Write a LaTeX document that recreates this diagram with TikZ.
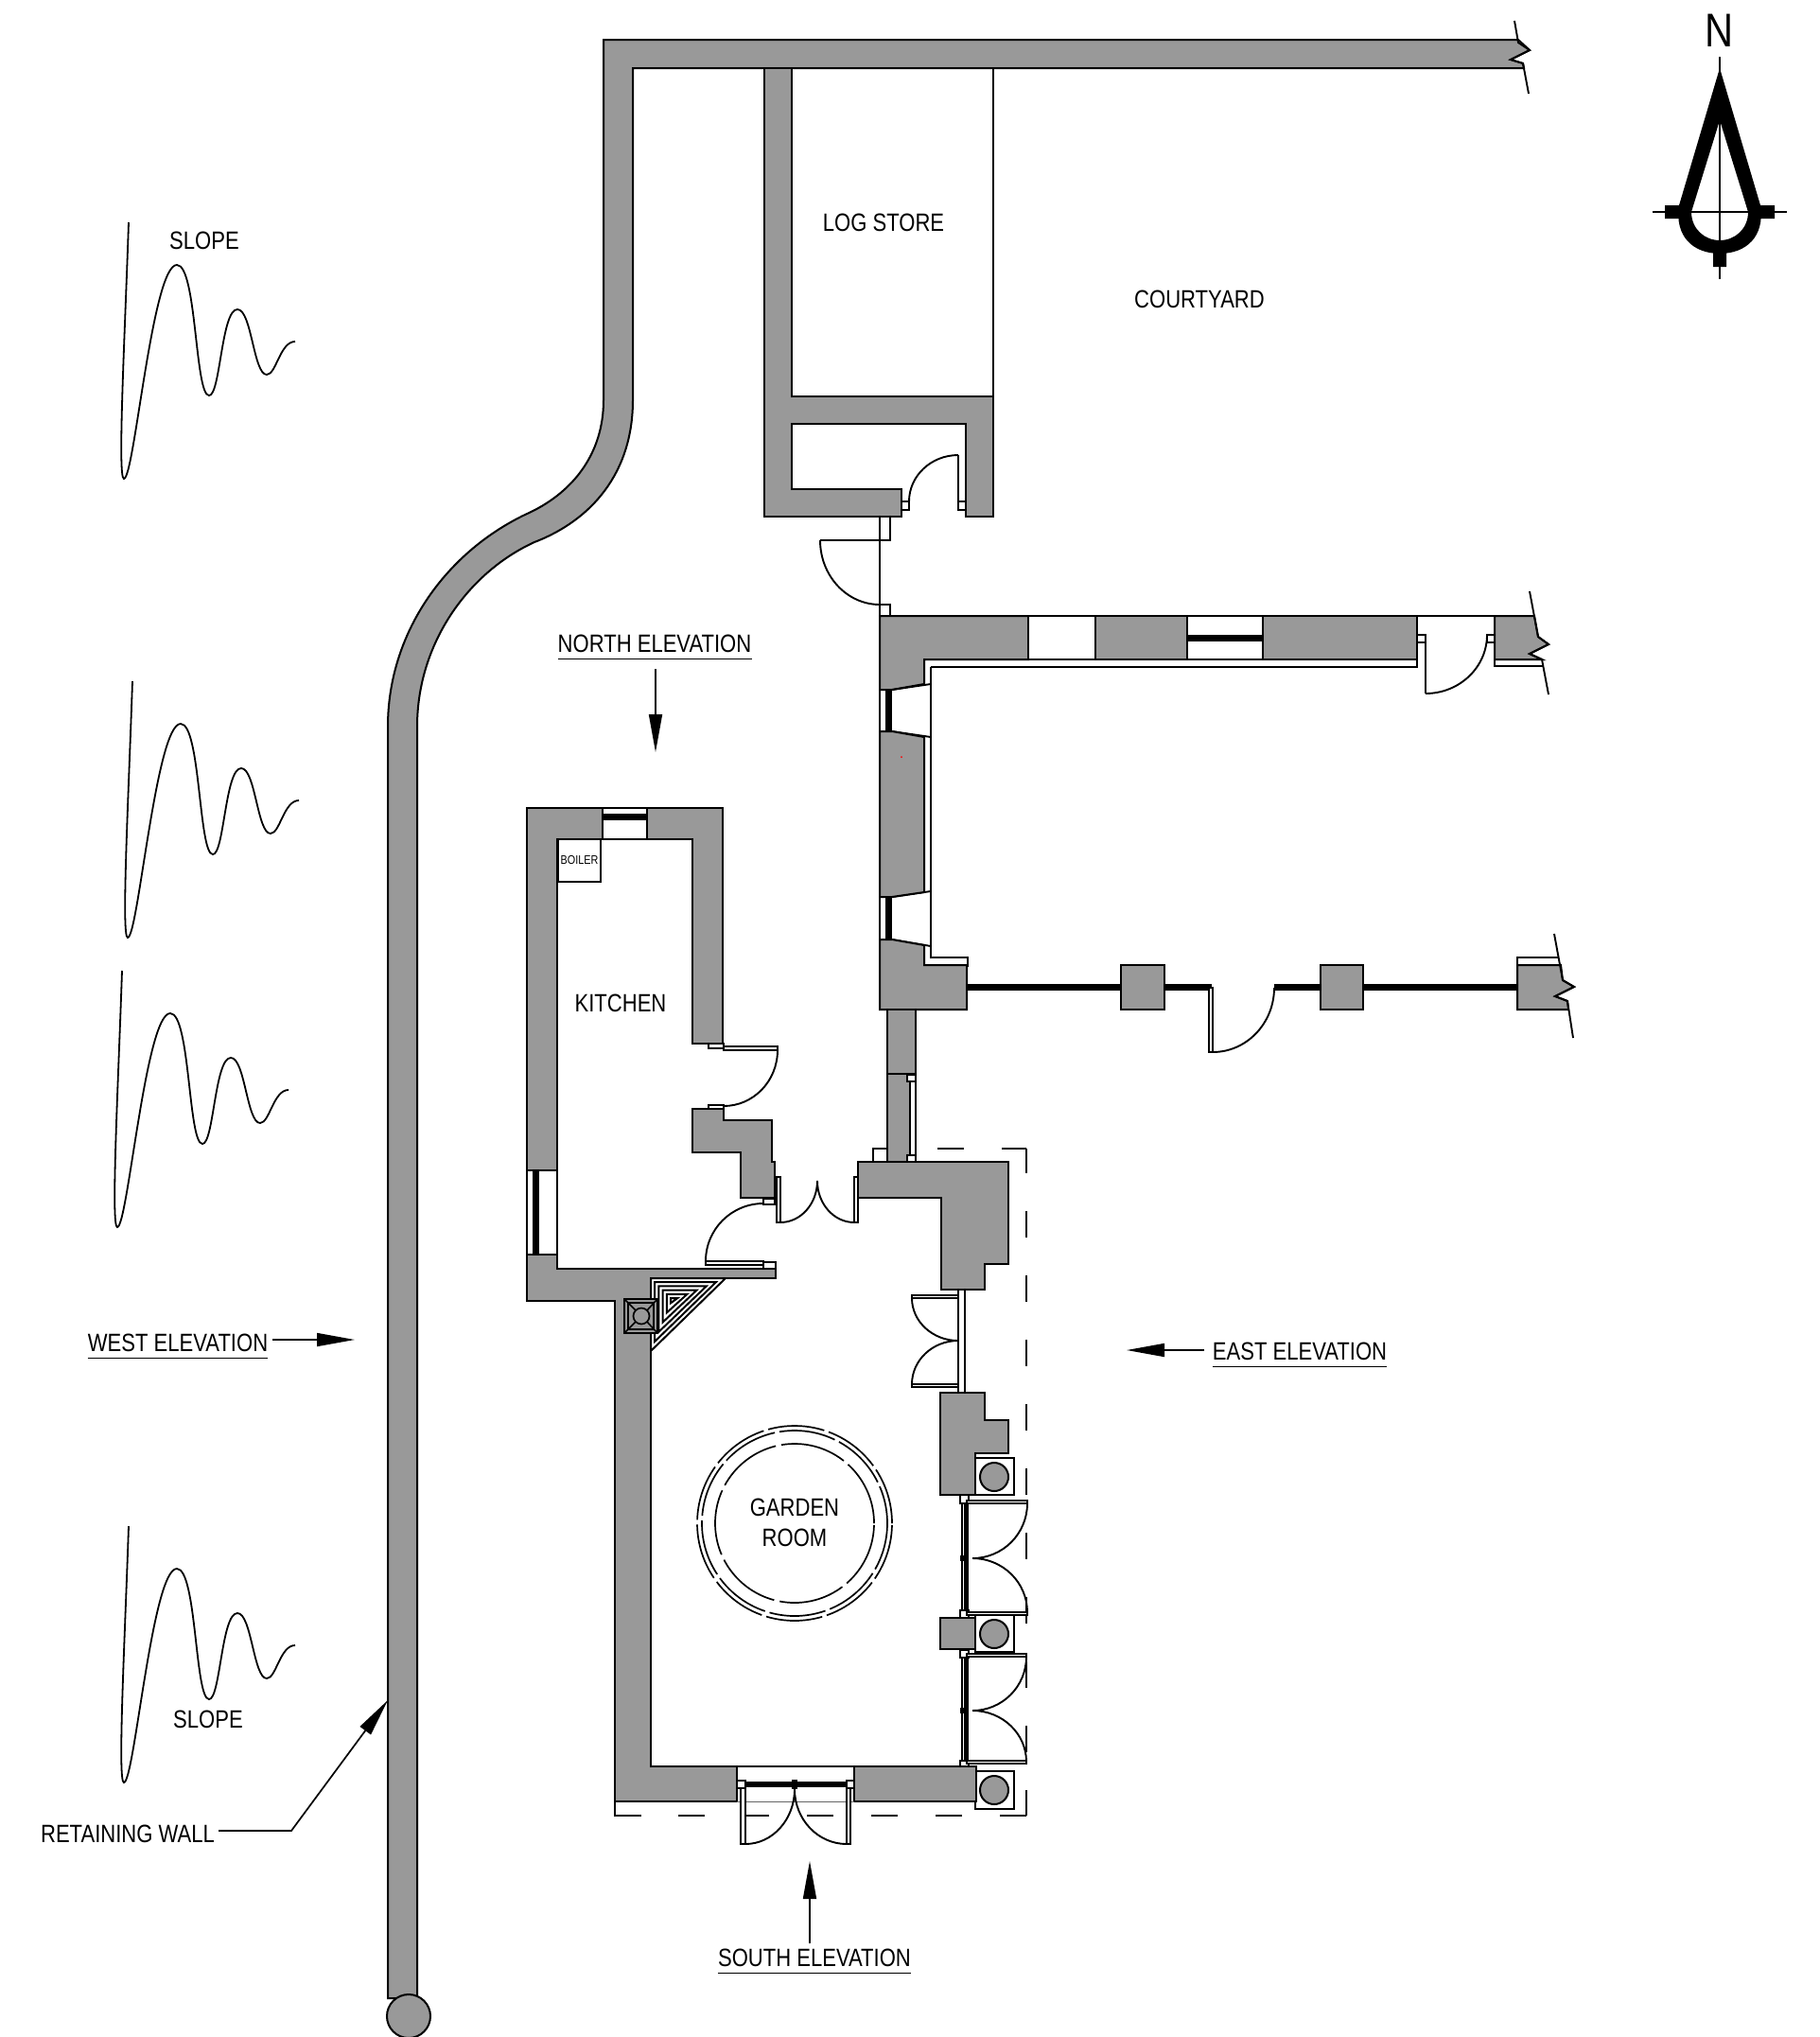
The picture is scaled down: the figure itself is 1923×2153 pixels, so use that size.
\documentclass[tikz,border=0pt]{standalone}
\usepackage{fontspec}
\setmainfont[FakeStretch=0.832]{Liberation Sans}
\usetikzlibrary{calc,arrows.meta}
\definecolor{wallgray}{HTML}{999999}
\newcommand{\qarc}[4]{\draw[ln] (#1,#2) .. controls ($(#1,#2)!0.552!(#1,#4)$) and ($(#3,#4)!0.552!(#1,#4)$) .. (#3,#4);}
\newcommand{\fr}[4]{\draw[frm] (#1,#2) rectangle (#3,#4);}
\newcommand{\blk}[4]{\fill[black] (#1,#2) rectangle (#3,#4);}
\tikzset{
 ln/.style={draw=black,line width=1.9pt,line join=miter},
 wall/.style={draw=black,fill=wallgray,line width=2pt,line join=miter},
 frm/.style={draw=black,fill=white,line width=1.7pt},
 dashline/.style={draw=black,line width=1.9pt,dash pattern=on 28pt off 40pt},
 lab/.style={inner sep=0pt,font=\fontsize{26.5}{30}\selectfont},
 lead/.style={draw=black,line width=1.7pt},
 arr/.style={lead,-{Triangle[length=40pt,width=14pt]}},
}
\begin{document}
\begin{tikzpicture}[x=1pt,y=-1pt]
\useasboundingbox (0,0) rectangle (1923,2153);
\fill[white] (0,0) rectangle (1923,2153);

% building line (dashed outline)
\draw[ln] (923,1228) -- (923,1214) -- (951,1214);
\draw[dashline] (991,1214) -- (1085,1214);
\draw[dashline,dash phase=2pt] (1085,1214) -- (1085,1919);
\draw[dashline] (1085,1919) -- (680,1919);
\draw[ln] (650,1904) -- (650,1919) -- (678,1919);

% retaining wall + north wall
\draw[wall] (638,42) -- (1605,42) -- (1617,53) -- (1597,63) -- (1610,67) -- (1611,72) -- (669,72) -- (669,423)
  .. controls (669,500) and (625,550) .. (565,573)
  .. controls (495,605) and (441,680) .. (441,768)
  -- (441,2112) -- (410,2112) -- (410,768)
  .. controls (410,670) and (470,585) .. (555,544)
  .. controls (605,522) and (638,480) .. (638,423) -- cycle;
\draw[wall] (432,2131) circle[radius=23pt];
\draw[ln] (1601,22) -- (1605,45) -- (1617,53) -- (1597,63) -- (1610,67) -- (1616,99);

% log store
\draw[ln] (1050,72) -- (1050,419);
\draw[wall] (808,72) -- (837,72) -- (837,419) -- (1050,419) -- (1050,546) -- (1021,546) -- (1021,448) -- (837,448) -- (837,517) -- (953,517) -- (953,546) -- (808,546) -- cycle;
\fr{953}{530}{961}{539} \fr{1013}{530}{1021}{539}
\draw[ln] (1013,481) -- (1013,530);
\qarc{961}{530}{1013}{481}
% gate
\draw[ln] (930,546) -- (930,651);
\draw[ln] (930,546) -- (941,546) -- (941,571) -- (930,571);
\draw[ln] (867,571) -- (930,571);
\draw[ln] (930,639) -- (941,639) -- (941,651);
\qarc{867}{571}{930}{639}

% main range, inner lining
\draw[ln] (984,723) -- (984,1012) -- (1023,1012) -- (1023,1022);
\draw[ln] (984,705) -- (1498,705) -- (1498,697);
\draw[ln] (984,705) -- (984,723);
\draw[ln] (977,697) -- (977,723);
% north wall of main range
\draw[wall] (930,651) -- (1087,651) -- (1087,697) -- (977,697) -- (977,723) -- (943,729) -- (930,729) -- cycle;
\draw[frm] (1087,651) rectangle (1158,697);
\draw[wall] (1158,651) rectangle (1255,697);
\draw[frm] (1255,651) rectangle (1335,697);
\blk{1256}{671}{1334}{678}
\draw[wall] (1335,651) rectangle (1498,697);
\draw[ln] (1498,651) -- (1580,651);
\draw[wall] (1580,651) -- (1622,651) -- (1626,673) -- (1637,681) -- (1617,691) -- (1630,697) -- (1580,697) -- cycle;
\draw[ln] (1617,625) -- (1626,673) -- (1637,681) -- (1617,691) -- (1630,697) -- (1637,734);
\draw[ln] (1580,697) -- (1580,704) -- (1631,704);
\fr{1498}{671}{1507}{679} \fr{1572}{671}{1580}{679}
\draw[ln] (1507,679) -- (1507,733);
\qarc{1572}{671}{1507}{733}
% west windows of main range
\draw[ln] (930,729) -- (930,993);
\draw[ln] (943,729) -- (984,723); \draw[ln] (943,773) -- (984,779);
\draw[ln] (943,948) -- (984,942); \draw[ln] (943,993) -- (984,1000);
\blk{936}{729}{943}{773} \blk{936}{948}{943}{993}
\draw[wall] (930,773) -- (943,773) -- (977,779) -- (977,943) -- (943,948) -- (930,948) -- cycle;
\draw[wall] (930,993) -- (943,993) -- (977,999) -- (977,1020) -- (1022,1020) -- (1022,1067) -- (930,1067) -- cycle;
\fill[red] (953,800) circle[radius=1pt];
% south line of main range
\blk{1022}{1040}{1185}{1047} \blk{1231}{1040}{1281}{1047} \blk{1347}{1040}{1396}{1047} \blk{1441}{1040}{1604}{1047}
\draw[wall] (1185,1020) rectangle (1231,1067);
\draw[wall] (1396,1020) rectangle (1441,1067);
\draw[ln] (1604,1020) -- (1604,1012) -- (1648,1012);
\draw[wall] (1604,1020) -- (1650,1020) -- (1652,1036) -- (1664,1043) -- (1644,1053) -- (1657,1058) -- (1658,1067) -- (1604,1067) -- cycle;
\draw[ln] (1643,987) -- (1652,1036) -- (1664,1043) -- (1644,1053) -- (1657,1058) -- (1663,1097);
\draw[frm] (1278,1044) rectangle (1282,1112);
\qarc{1347}{1044}{1282}{1112}

% link pier
\draw[wall] (938,1067) rectangle (968,1228);
\draw[ln] (938,1135) -- (968,1135);
\fr{962}{1143}{968}{1221}
\fr{959}{1136}{968}{1143}
\fr{959}{1221}{968}{1228}

% kitchen
\draw[wall] (557,854) -- (637,854) -- (637,887) -- (589,887) -- (589,1237) -- (557,1237) -- cycle;
\draw[wall] (684,854) -- (764,854) -- (764,1103) -- (732,1103) -- (732,887) -- (684,887) -- cycle;
\fr{637}{854}{684}{887}
\blk{637}{860}{684}{867}
\fr{557}{1237}{589}{1326}
\blk{563}{1237}{570}{1326}
\draw[frm] (590,887) rectangle (635,932);
\node[inner sep=0pt,font=\fontsize{13}{15}\selectfont] (boiler) at (612.5,909.5) {BOILER};
% kitchen lower wall and garden-room west wall
\draw[wall] (557,1326) -- (589,1326) -- (589,1341) -- (820,1341) -- (820,1351) -- (688,1351) -- (688,1867) -- (779,1867) -- (779,1904) -- (650,1904) -- (650,1375) -- (557,1375) -- cycle;
% kitchen east door
\fr{749}{1103}{765}{1108}
\fr{765}{1106}{822}{1110}
\qarc{822}{1110}{765}{1169}
\fr{749}{1168}{765}{1172}
% kitchen stepped block
\draw[wall] (732,1172) -- (765,1172) -- (765,1184) -- (816,1184) -- (816,1228) -- (819,1228) -- (819,1266) -- (783,1266) -- (783,1218) -- (732,1218) -- cycle;
% kitchen south door
\fr{807}{1267}{819}{1273}
\qarc{746}{1333}{807}{1272}
\fr{746}{1333}{807}{1337}
\fr{807}{1334}{820}{1341}
% double door between kitchen and link
\draw[wall] (907,1228) -- (1066,1228) -- (1066,1336) -- (1041,1336) -- (1041,1363) -- (995,1363) -- (995,1266) -- (907,1266) -- cycle;
\fr{821}{1244}{825}{1292}
\fr{903}{1244}{907}{1292}
\qarc{864}{1248}{825}{1292}
\qarc{864}{1248}{903}{1292}
% corner cupboard
\foreach \d in {0,4.2,8.4,12.6,16.8,21}{
 \draw[line width=2pt,line join=miter] ({688+\d},{1351+\d}) -- ({767-2.414*\d},{1351+\d}) -- ({688+\d},{1428-2.414*\d}) -- cycle;
}
% flue
\draw[wall,line width=2.4pt] (660,1373) rectangle (695,1409);
\draw[line width=1.6pt] (664,1377) rectangle (691,1405);
\draw[line width=1.6pt] (660,1373) -- (672,1385) (695,1373) -- (684,1385) (660,1409) -- (672,1397) (695,1409) -- (684,1397);
\draw[wall,line width=1.7pt] (678,1391) circle[radius=8.5pt];
% east side of garden room
\fr{1013}{1363}{1020}{1472}
\fr{964}{1369}{1013}{1372}
\fr{964}{1463}{1013}{1466}
\qarc{964}{1372}{1013}{1417}
\qarc{964}{1463}{1013}{1417}
\draw[wall] (994,1472) -- (1041,1472) -- (1041,1501) -- (1066,1501) -- (1066,1536) -- (1031,1536) -- (1031,1580) -- (994,1580) -- cycle;
\fr{1031}{1541}{1072}{1580}
\draw[wall] (1051,1561) circle[radius=15pt];
\fr{1031}{1707}{1072}{1746}
\draw[wall] (1051,1727) circle[radius=15pt];
\draw[wall] (994,1710) rectangle (1031,1743);
\fr{1031}{1872}{1072}{1912}
\draw[wall] (1051,1892) circle[radius=15pt];
% east double doors, upper
\fr{1017}{1589}{1023}{1702}
\blk{1018.5}{1589}{1022}{1702}
\fr{1015}{1580}{1024}{1589}
\fr{1022}{1586}{1086}{1589}
\qarc{1086}{1589}{1028}{1647}
\qarc{1086}{1704}{1028}{1647}
\blk{1015}{1644}{1024}{1650}
\fr{1015}{1702}{1024}{1710}
\fr{1022}{1704}{1086}{1707}
% east double doors, lower
\fr{1017}{1751}{1023}{1862}
\blk{1018.5}{1751}{1022}{1862}
\fr{1015}{1744}{1024}{1752}
\fr{1022}{1748}{1085}{1751}
\qarc{1085}{1751}{1028}{1808}
\qarc{1085}{1862}{1028}{1808}
\blk{1015}{1805}{1024}{1811}
\fr{1015}{1861}{1024}{1867}
\fr{1022}{1861}{1085}{1864}
% south wall east part and door
\draw[wall] (903,1867) -- (1032,1867) -- (1032,1904) -- (903,1904) -- cycle;
\draw[ln] (779,1867) -- (903,1867);
\draw[line width=1pt,draw=black!60] (779,1904) -- (903,1904);
\blk{788}{1883}{895}{1889}
\blk{837}{1881}{843}{1891}
\fr{779}{1882}{788}{1890} \fr{895}{1882}{903}{1890}
\fr{783}{1890}{788}{1949} \fr{895}{1890}{899}{1949}
\qarc{840}{1891}{788}{1949}
\qarc{840}{1891}{895}{1949}

% round table
\draw[line width=1.7pt,dash pattern=on 60pt off 5pt] (840,1610) circle[radius=103pt];
\draw[line width=1.7pt,dash pattern=on 60pt off 5pt,dash phase=20pt] (840,1610) circle[radius=98pt];
\draw[line width=1.7pt,dash pattern=on 70pt off 6pt] (840,1610) circle[radius=84pt];

% slope marks
\foreach \sx/\sy in {136/235,140/720,129/1026,136/1613}{
 \begin{scope}[shift={(\sx,\sy)}]
 \draw[line width=1.8pt] (0,0) .. controls (-4,120) and (-12,271) .. (-5,271)
  .. controls (6,271) and (25,45) .. (51,45)
  .. controls (72,45) and (70,183) .. (85,183)
  .. controls (97,183) and (98,92) .. (115,92)
  .. controls (130,92) and (132,161) .. (146,161)
  .. controls (156,161) and (160,126) .. (176,126);
 \end{scope}
}

% labels
\node[lab] (slopea) at (216,254) {SLOPE};
\node[lab] (slopeb) at (220,1817) {SLOPE};
\node[lab] (logstore) at (934,235) {LOG STORE};
\node[lab] (courtyard) at (1268,316) {COURTYARD};
\node[lab] (kitchen) at (656,1060) {KITCHEN};
\node[lab,align=center,font=\fontsize{26.5}{32}\selectfont] (garden) at (840,1609) {GARDEN\\ROOM};
\node[lab] (north) at (692,680) {NORTH ELEVATION};
\node[lab] (west) at (188,1419) {WEST ELEVATION};
\node[lab] (east) at (1374,1428) {EAST ELEVATION};
\node[lab] (south) at (861,2069) {SOUTH ELEVATION};
\node[lab] (retain) at (135,1938) {RETAINING WALL};
\draw[lead] ([yshift=-7pt]north.south west) -- ([yshift=-7pt]north.south east);
\draw[lead] ([yshift=-7pt]west.south west) -- ([yshift=-7pt]west.south east);
\draw[lead] ([yshift=-7pt]east.south west) -- ([yshift=-7pt]east.south east);
\draw[lead] ([yshift=-7pt]south.south west) -- ([yshift=-7pt]south.south east);

% elevation arrows
\coordinate (na) at (693,707); \coordinate (nb) at (693,795);
\coordinate (wa) at (288,1416); \coordinate (wb) at (375,1416);
\coordinate (ea) at (1273,1427); \coordinate (eb) at (1191,1427);
\coordinate (sa) at (856,2054); \coordinate (sb) at (856,1967);
\draw[arr] (na) -- (nb);
\draw[arr] (wa) -- (wb);
\draw[arr] (ea) -- (eb);
\draw[arr] (sa) -- (sb);
\coordinate (rs) at (231,1935); \coordinate (rk) at (308,1935); \coordinate (rt) at (410,1797);
\draw[arr] (rs) -- (rk) -- (rt);

% north point
\node[inner sep=0pt,font=\fontsize{50}{50}\selectfont] (npoint) at (1818,32) {N};
\fill[black,even odd rule] (1818,72) -- (1775,217) .. controls (1770,250) and (1790,268) .. (1818,268) .. controls (1846,268) and (1866,250) .. (1861,217) -- cycle
  (1818,127) -- (1788,224) .. controls (1788,242) and (1802,254) .. (1818,254) .. controls (1834,254) and (1848,242) .. (1848,224) -- cycle;
\fill[black] (1760,217) rectangle (1778,231) (1858,217) rectangle (1876,231) (1811,266) rectangle (1825,282);
\draw[line width=2pt] (1818,60) -- (1818,295) (1747,224) -- (1889,224);
\end{tikzpicture}
\end{document}
